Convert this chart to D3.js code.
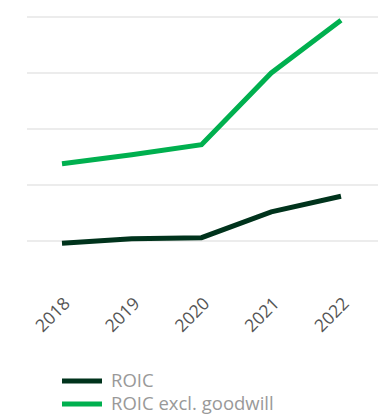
<!DOCTYPE html>
<html><head><meta charset="utf-8">
<script src="https://cdn.jsdelivr.net/npm/d3@7"></script>
<style>body{margin:0;background:#fff}svg{display:block}</style>
</head><body>
<svg id="c" width="378" height="416"></svg>
<script>
const years = ["2018","2019","2020","2021","2022"];
const roic = [4.8, 5.2, 5.3, 7.6, 9.0];
const roicExGoodwill = [11.9, 12.7, 13.6, 20.0, 24.7];
const gridTicks = [5, 10, 15, 20, 25];
const seriesNames = ["ROIC", "ROIC excl. goodwill"];
const seriesColors = ["#00331c", "#00b04f"];

const svg = d3.select("#c");
const x = d3.scalePoint().domain(years).range([62, 341]);
const y = d3.scaleLinear().domain([5, 25]).range([241, 17]);

svg.append("g").selectAll("line").data(gridTicks).join("line")
  .attr("x1", 27).attr("x2", 378)
  .attr("y1", d => y(d)).attr("y2", d => y(d))
  .attr("stroke", "#e6e6e6").attr("stroke-width", 1.5);

const series = [roic, roicExGoodwill];
const line = d3.line().x((d,i) => x(years[i])).y(d => y(d));
series.forEach((s, k) => {
  svg.append("path").datum(s).attr("d", line)
    .attr("fill", "none").attr("stroke", seriesColors[k])
    .attr("stroke-width", 5).attr("stroke-linejoin", "miter");
});

const xAxis = svg.append("g").attr("transform", "translate(0,296)")
  .call(d3.axisBottom(x).tickSize(0).tickPadding(0));
xAxis.select(".domain").remove();
xAxis.selectAll("text")
  .attr("text-anchor", "end").attr("dy", "0.7em").attr("y", 0).attr("x", 0)
  .attr("transform", "rotate(-45)")
  .attr("fill", "#555").style("font-family", "'Open Sans', sans-serif").style("font-size", "17.5px");

const leg = svg.append("g");
seriesNames.forEach((n, k) => {
  const yy = 381 + k * 23;
  leg.append("line").attr("x1", 62).attr("x2", 102).attr("y1", yy).attr("y2", yy)
    .attr("stroke", seriesColors[k]).attr("stroke-width", 5);
  leg.append("text").attr("x", 111).attr("y", yy).attr("dy", "0.35em")
    .attr("fill", "#999").style("font-family", "'Open Sans', sans-serif").style("font-size", "18.5px")
    .text(n);
});
</script>
</body></html>
